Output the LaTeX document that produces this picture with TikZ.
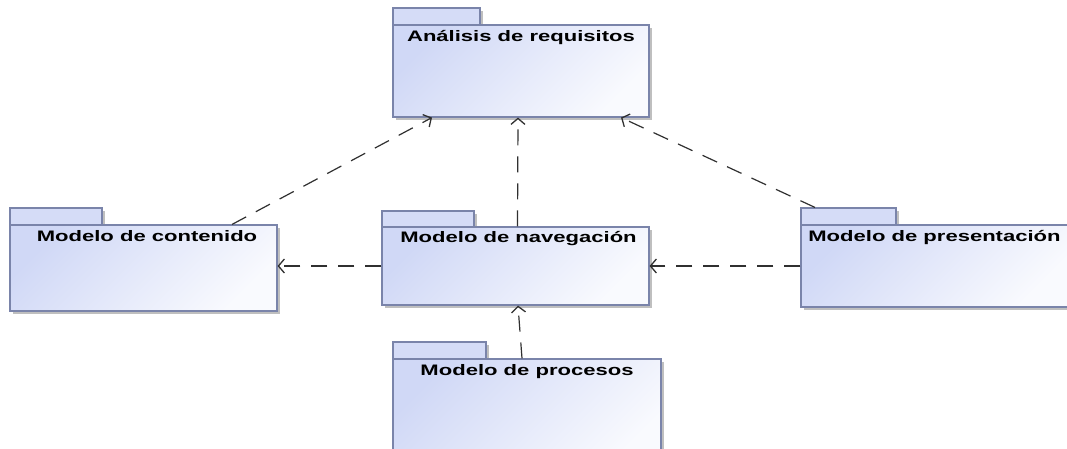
\documentclass[tikz,border=0pt]{standalone}
\usepackage{fontspec}
\usetikzlibrary{arrows.meta,shadows,calc}
\newfontfamily\pkfont{Liberation Sans}
\newcommand\pktext[1]{\scalebox{1.45}[1]{\pkfont\bfseries\fontsize{15.2}{18}\selectfont #1}}
\definecolor{pkA}{HTML}{D0D8F6}
\definecolor{pkB}{HTML}{F9FAFE}
\definecolor{pkTab}{HTML}{D5DCF7}
\definecolor{pkBorder}{HTML}{7A84AA}
\definecolor{pkLine}{HTML}{303030}
\tikzset{
  pkshadow/.style={drop shadow={shadow xshift=3pt,shadow yshift=-3pt,fill=black!25,opacity=1}},
  pkbody/.style={rectangle,draw=pkBorder,line width=1.1pt,top color=pkA,bottom color=pkB,shading angle=45,inner sep=0pt,pkshadow},
  pktab/.style={rectangle,draw=pkBorder,line width=1.1pt,fill=pkTab,inner sep=0pt,minimum width=90pt,minimum height=17pt,pkshadow},
  pklabel/.style={anchor=base,inner sep=0pt,text=black},
  dep/.style={draw=pkLine,line width=1.2pt,dash pattern=on 16pt off 11pt,-{Straight Barb[length=6pt,width=14pt,line width=1.3pt]}}
}
\begin{document}
\begin{tikzpicture}[x=1pt,y=-1pt]
\useasboundingbox (0,0) rectangle (1067,449);
\clip (0,0) rectangle (1067,449);
\fill[white] (0,0) rectangle (1067,449);
% tabs
\node[pktab,minimum width=87pt] (anaTab) at (436.5,16.5) {};
\node[pktab,minimum width=92pt] (contTab) at (56,216.5) {};
\node[pktab,minimum width=92pt,minimum height=16pt] (navTab) at (428,219) {};
\node[pktab,minimum width=95pt] (presTab) at (848.5,216.5) {};
\node[pktab,minimum width=93pt] (procTab) at (439.5,350.5) {};
% bodies
\node[pkbody,minimum width=256pt,minimum height=92pt] (ana) at (521,71) {};
\node[pkbody,minimum width=267pt,minimum height=86pt] (cont) at (143.5,268) {};
\node[pkbody,minimum width=267pt,minimum height=78pt] (nav) at (515.5,266) {};
\node[pkbody,minimum width=269pt,minimum height=82pt] (pres) at (935.5,266) {};
\node[pkbody,minimum width=268pt,minimum height=111pt] (proc) at (527,414.5) {};
% labels
\node[pklabel] (anaL) at ([yshift=-17pt]ana.north) {\pktext{Análisis de requisitos}};
\node[pklabel] (contL) at ([yshift=-17pt,xshift=3.5pt]cont.north) {\pktext{Modelo de contenido}};
\node[pklabel] (navL) at ([yshift=-16pt,xshift=3pt]nav.north) {\pktext{Modelo de navegación}};
\node[pklabel] (presL) at ([yshift=-17pt,xshift=-1pt]pres.north) {\pktext{Modelo de presentación}};
\node[pklabel] (procL) at ([yshift=-17pt]proc.north) {\pktext{Modelo de procesos}};
% dependencies
\draw[dep] (nav.west) -- (nav.west -| cont.east);
\draw[dep] (pres.west) -- (pres.west -| nav.east);
\draw[dep] ([xshift=2pt]nav.north) -- ([xshift=-3pt]ana.south);
\draw[dep] ([xshift=-5pt]proc.north) -- ([xshift=2.5pt]nav.south);
\draw[dep] ([xshift=88.5pt]cont.north) -- ([xshift=-89pt]ana.south);
\draw[dep] ([xshift=-33.5pt]presTab.north) -- ([xshift=100pt]ana.south);
\end{tikzpicture}
\end{document}
